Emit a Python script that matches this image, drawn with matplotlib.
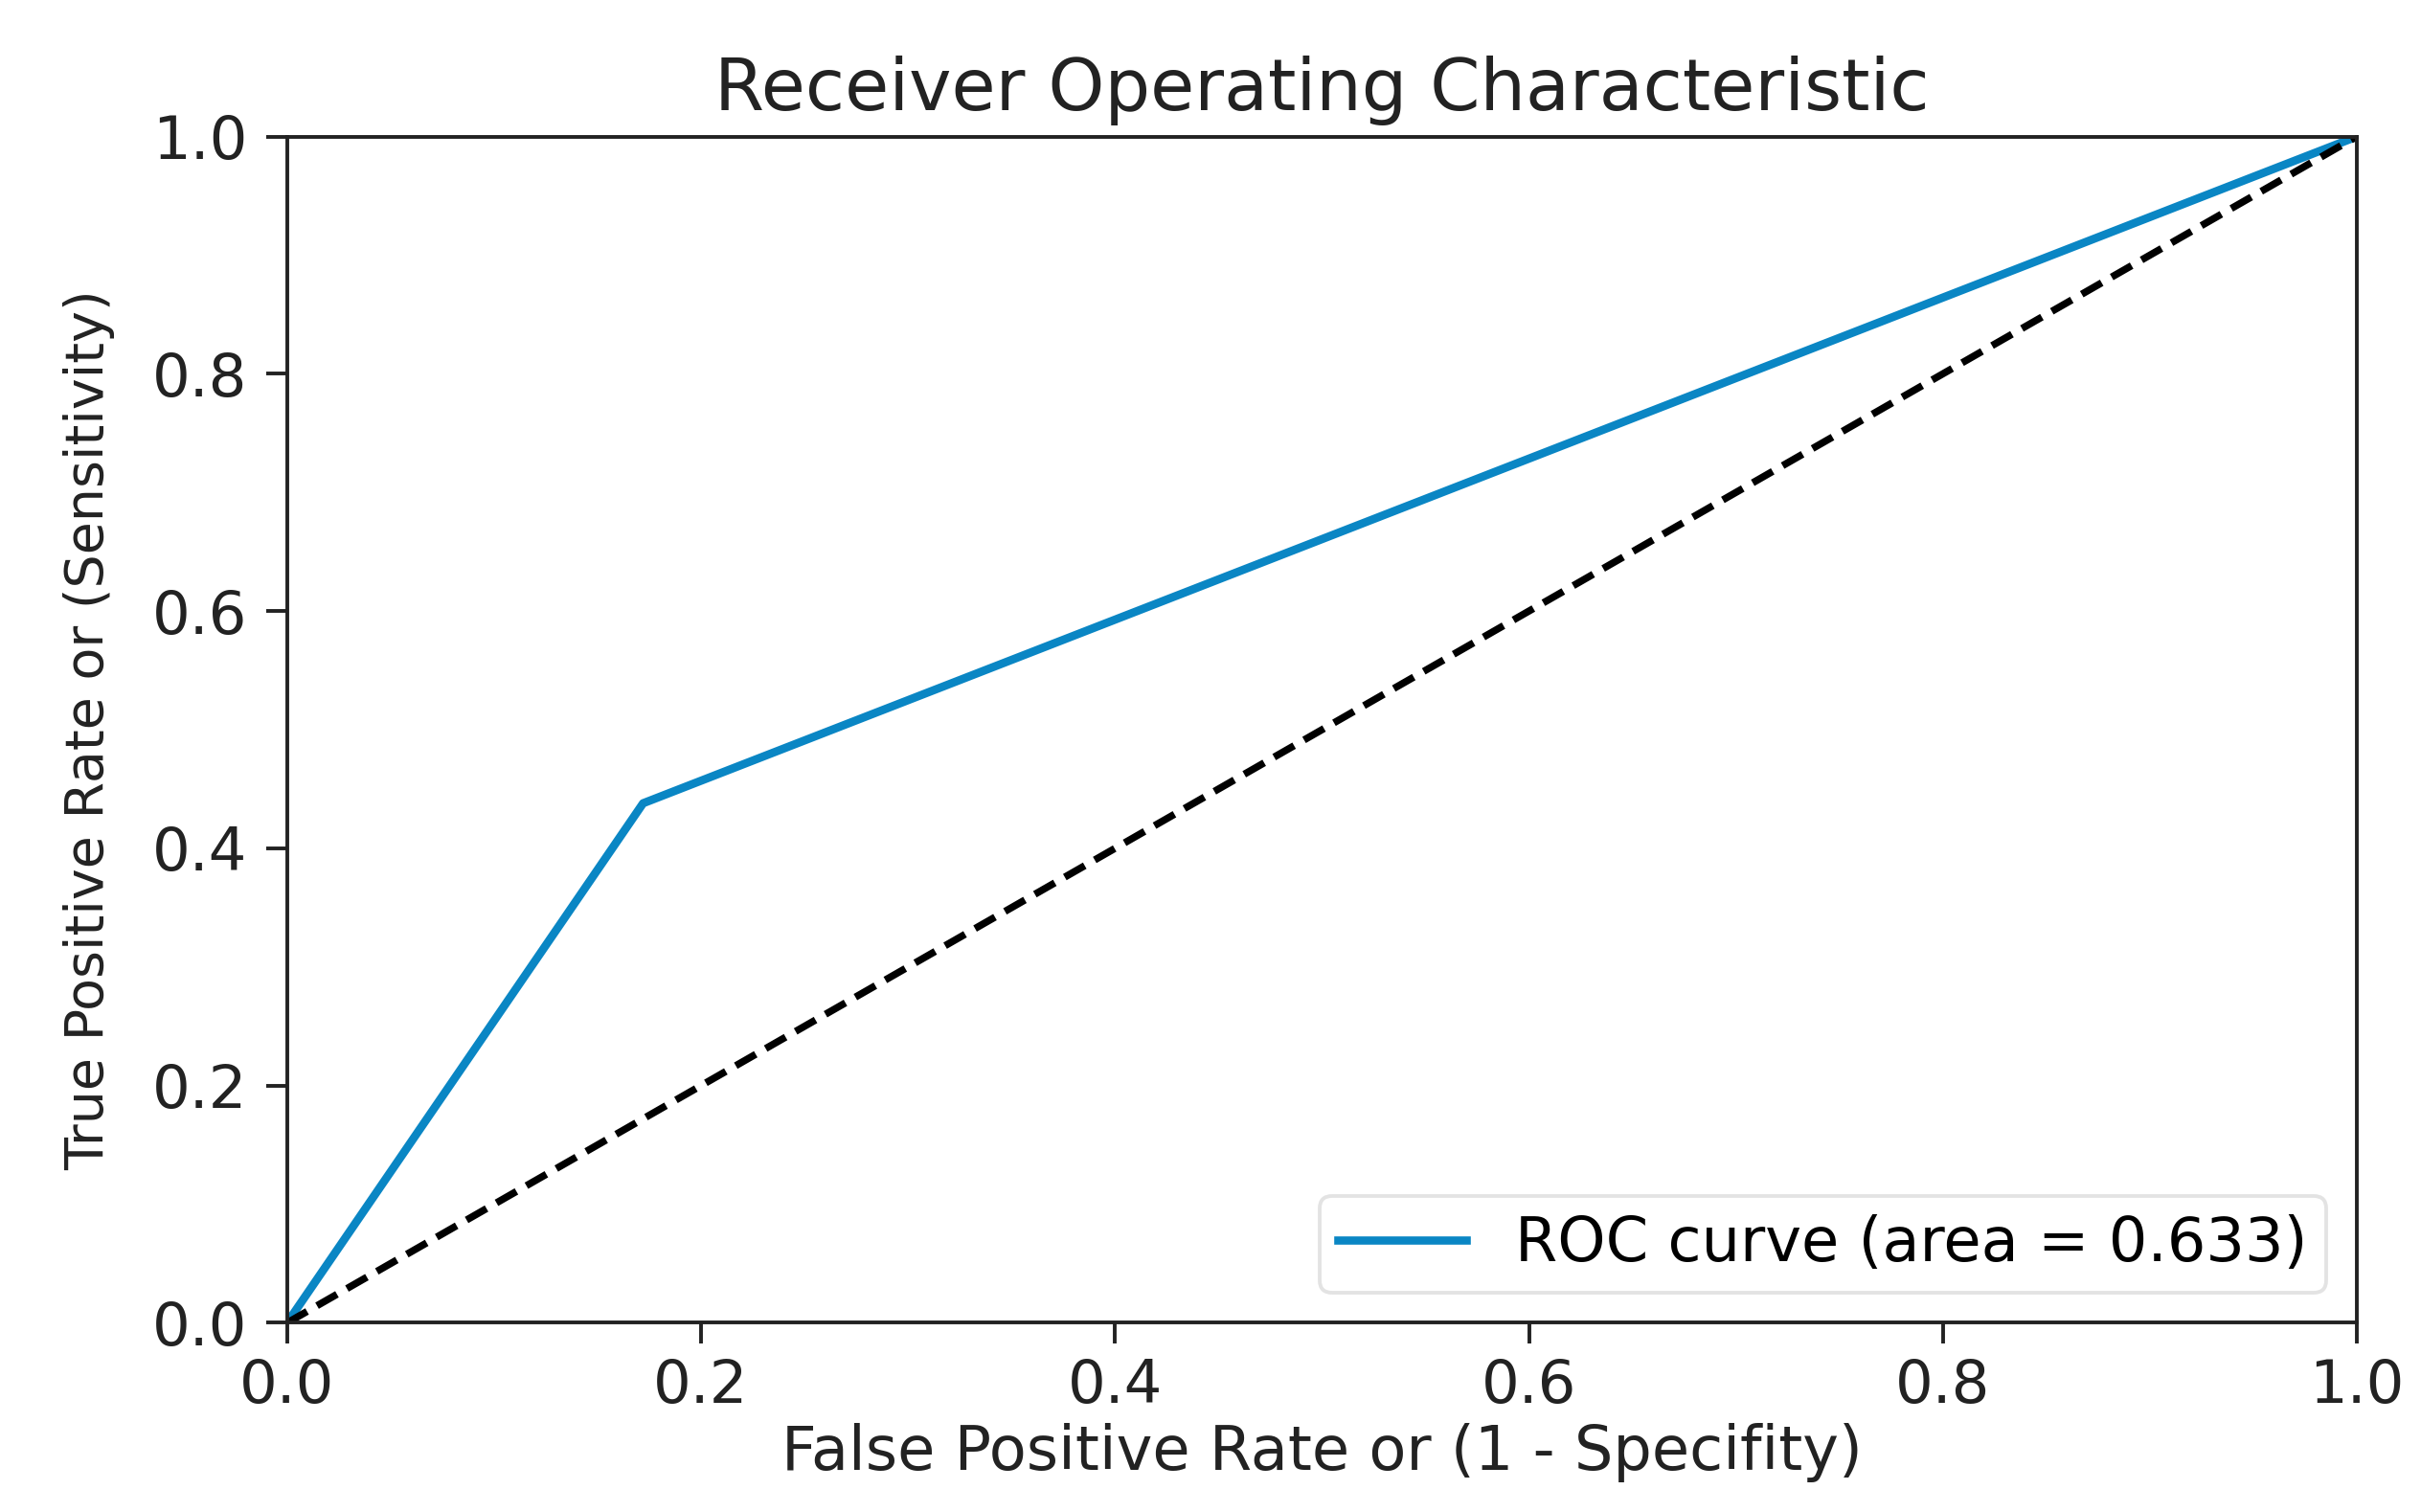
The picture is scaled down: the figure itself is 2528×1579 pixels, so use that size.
import matplotlib
matplotlib.use("Agg")
import matplotlib.pyplot as plt

fpr = [0.0, 0.172, 1.0]
tpr = [0.0, 0.438, 1.0]
diag_x = [0.0, 1.0]
diag_y = [0.0, 1.0]
auc_value = 0.633
xticks = [0.0, 0.2, 0.4, 0.6, 0.8, 1.0]
yticks = [0.0, 0.2, 0.4, 0.6, 0.8, 1.0]

plt.rcParams['font.family'] = ['DejaVu Sans']
fig = plt.figure(figsize=(25.28, 15.79), dpi=100)
ax = fig.add_axes([0.1186, 0.1251, 0.9735 - 0.1186, 0.9097 - 0.1251])

ax.plot(fpr, tpr, color='#0a86c4', lw=6.2, label='ROC curve (area = %0.3f)' % auc_value)
ax.plot(diag_x, diag_y, color='black', lw=5.4, linestyle=(0, (3.2, 1.6)))
ax.set_xlim(0.0, 1.0)
ax.set_ylim(0.0, 1.0)
ax.set_xticks(xticks)
ax.set_yticks(yticks)
ax.tick_params(labelsize=45, width=2.8, length=16, colors='#222222')
ax.tick_params(axis='y', pad=14)
ax.tick_params(axis='x', pad=10)
for s in ax.spines.values():
    s.set_linewidth(2.8)
    s.set_color('#222222')
ax.set_xlabel('False Positive Rate or (1 - Specifity)', fontsize=46, color='#222222', labelpad=6)
ax.set_ylabel('True Positive Rate or (Sensitivity)', fontsize=40, color='#222222', labelpad=28)
ax.set_title('Receiver Operating Characteristic', fontsize=54, color='#222222', pad=20)
leg = ax.legend(loc='lower right', fontsize=46, handlelength=2.1, borderpad=0.3,
                framealpha=0.8, edgecolor='#dddddd', borderaxespad=0.5, handletextpad=0.8)
leg.get_frame().set_linewidth(2.8)
fig.savefig('out.png', dpi=100)
